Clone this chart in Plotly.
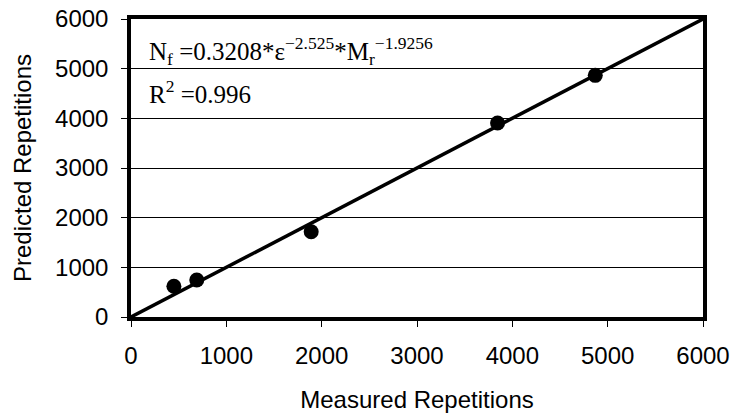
import plotly.graph_objects as go

measured = [450, 690, 1890, 3845, 4870]
predicted = [620, 745, 1715, 3905, 4865]
line_x = [0, 6000]
line_y = [0, 6000]
tick_vals = [0, 1000, 2000, 3000, 4000, 5000, 6000]
tick_text = ["0", "1000", "2000", "3000", "4000", "5000", "6000"]

fig = go.Figure()
fig.add_trace(go.Scatter(x=line_x, y=line_y, mode="lines",
                         line=dict(color="black", width=3.5), showlegend=False))
fig.add_trace(go.Scatter(x=measured, y=predicted, mode="markers",
                         marker=dict(color="black", size=15), showlegend=False))

axis_font = dict(family="Liberation Sans, Arial", size=24, color="black")
fig.update_layout(
    width=731, height=418,
    margin=dict(l=131, r=28, t=19, b=101),
    plot_bgcolor="white", paper_bgcolor="white",
    hovermode=False,
    xaxis=dict(range=[0, 6000], tickvals=tick_vals, ticktext=tick_text,
               showgrid=False, zeroline=False, showline=True, mirror=True,
               linecolor="black", linewidth=3.5, ticks="outside", ticklen=6,
               tickcolor="black", tickwidth=1, tickfont=axis_font,
               ticklabelstandoff=8, automargin=False, ticklabeloverflow="allow",
               title=dict(text="Measured Repetitions", font=axis_font, standoff=25)),
    yaxis=dict(range=[0, 6000], tickvals=tick_vals, ticktext=tick_text,
               showgrid=True, gridcolor="black", gridwidth=1, zeroline=False,
               showline=True, mirror=True, linecolor="black", linewidth=3.5,
               ticks="outside", ticklen=6, tickcolor="black", tickwidth=1,
               tickfont=axis_font, ticklabelstandoff=8, automargin=False,
               ticklabeloverflow="allow",
               title=dict(text="Predicted Repetitions", font=axis_font, standoff=18)),
    font=dict(family="Liberation Sans, Arial", color="black"),
)

eq_font = dict(family="Liberation Serif, Times New Roman", size=25, color="black")
fig.add_annotation(xref="paper", yref="paper", x=0.028, y=0.892, xanchor="left", yanchor="middle",
                   showarrow=False, font=eq_font,
                   text="N<sub>f</sub> =0.3208*ε<sup>−2.525</sup>*M<sub>r</sub><sup>−1.9256</sup>")
fig.add_annotation(xref="paper", yref="paper", x=0.028, y=0.755, xanchor="left", yanchor="middle",
                   showarrow=False, font=eq_font,
                   text="R<sup>2</sup> =0.996")

fig.write_html("out.html", config={"displayModeBar": False},
               post_script="document.body.style.margin='0';document.body.style.overflow='hidden';")
